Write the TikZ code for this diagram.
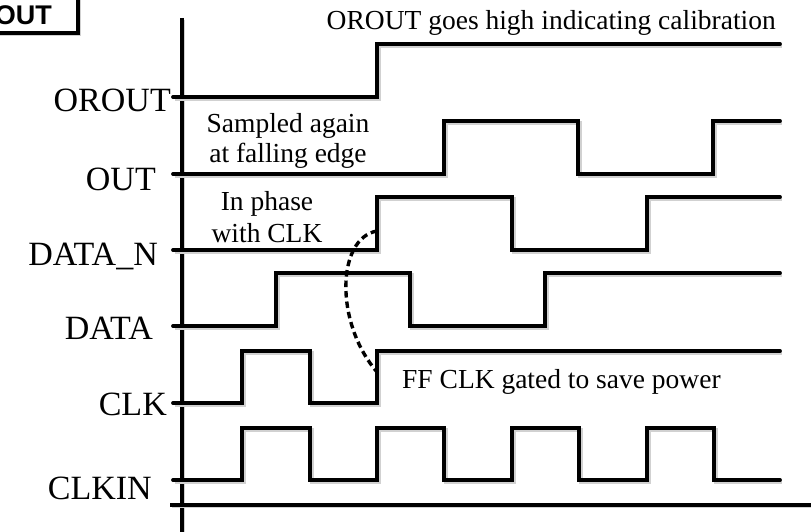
\documentclass[tikz,border=0pt]{standalone}
\usepackage{fontspec}
\setmainfont{Liberation Serif}
\newfontfamily\boxfont{Liberation Sans}
\begin{document}
\begin{tikzpicture}[x=1pt,y=-1pt,
  sig/.style={line width=3.8pt, line cap=round, line join=miter,
    preaction={draw=black!18, line width=3.8pt, transform canvas={shift={(1.6pt,-1.8pt)}}}},
  axisline/.style={line width=3.2pt, preaction={draw=black!18, line width=3.2pt, transform canvas={shift={(1.6pt,-1.8pt)}}}},
  siglabel/.style={anchor=base east, inner sep=0pt, font=\fontsize{34}{40}\selectfont},
  note/.style={inner sep=0pt, font=\fontsize{27.5}{32}\selectfont, align=center}]
\useasboundingbox (0,0) rectangle (811,532);
% top-left box
\draw[line width=3.4pt, preaction={draw=black!18, line width=3.4pt, transform canvas={shift={(1.6pt,-1.8pt)}}}] (-20,-20) rectangle (78,33);
\node[anchor=base east, inner sep=0pt, font=\boxfont\bfseries\fontsize{27}{30}\selectfont] (boxtxt) at (52,25) {OUT};
% axes
\draw[axisline] (182,18) -- (182,540);
\draw[axisline] (170,505) -- (815,505);
% signals
\draw[sig] (173,97) -- (377,97) -- (377,44) -- (780,44);
\draw[sig] (173,174) -- (444,174) -- (444,121) -- (578,121) -- (578,174) -- (713,174) -- (713,121) -- (780,121);
\draw[sig] (173,250) -- (377,250) -- (377,197) -- (512,197) -- (512,250) -- (647,250) -- (647,197) -- (780,197);
\draw[sig] (173,326) -- (276,326) -- (276,273) -- (410,273) -- (410,326) -- (545,326) -- (545,273) -- (780,273);
\draw[sig] (173,403) -- (242,403) -- (242,351) -- (310,351) -- (310,403) -- (377,403) -- (377,351) -- (780,351);
\draw[sig] (173,480) -- (242,480) -- (242,428) -- (310,428) -- (310,480) -- (377,480) -- (377,428) -- (444,428) -- (444,480)
   -- (512,480) -- (512,428) -- (579,428) -- (579,480) -- (647,480) -- (647,428) -- (714,428) -- (714,480) -- (780,480);
% labels
\node[siglabel] (lorout) at (171,112) {OROUT};
\node[siglabel] (lout) at (156,190) {OUT};
\node[siglabel] (ldatan) at (158,265) {DATA\_N};
\node[siglabel] (ldata) at (153,339) {DATA};
\node[siglabel] (lclk) at (167,415) {CLK};
\node[siglabel] (lclkin) at (152,499) {CLKIN};
% notes
\node[note, anchor=base east] (n1) at (776,30) {OROUT goes high indicating calibration};
\node[note, anchor=base] (n2a) at (288,132) {Sampled again};
\node[note, anchor=base] (n2b) at (288,163) {at falling edge};
\node[note, anchor=base] (n3a) at (267,210) {In phase};
\node[note, anchor=base] (n3b) at (267,242) {with CLK};
\node[note, anchor=base west] (n4) at (402,388) {FF CLK gated to save power};
% dashed curve
\coordinate (dn) at (377,231);
\coordinate (ck) at (377,372);
\draw[line width=3.4pt, dash pattern=on 6.5pt off 4pt] (dn) .. controls (337,238) and (334,322) .. (ck);
\end{tikzpicture}
\end{document}
